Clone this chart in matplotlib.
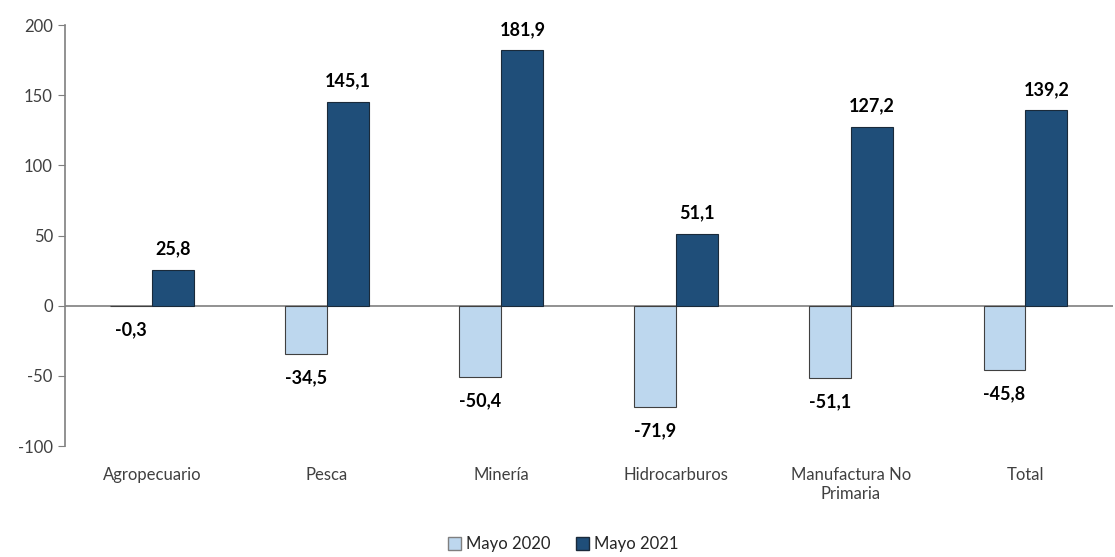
import numpy as np
import matplotlib.pyplot as plt
from matplotlib.patches import Patch

# Data
categories = ['Agropecuario', 'Pesca', 'Minería', 'Hidrocarburos',
              'Manufactura No\nPrimaria', 'Total']
mayo_2020 = [-0.3, -34.5, -50.4, -71.9, -51.1, -45.8]
mayo_2021 = [25.8, 145.1, 181.9, 51.1, 127.2, 139.2]
y_ticks = [-100, -50, 0, 50, 100, 150, 200]

LIGHT = '#bdd7ee'
DARK = '#1f4e79'
TEXT = '#404040'

plt.rcParams['font.family'] = ['Lato', 'DejaVu Sans']
plt.rcParams['axes.unicode_minus'] = False

fig = plt.figure(figsize=(11.15, 5.57), dpi=100)
ax = fig.add_axes([0.058, 0.199, 0.94, 0.756])

x = np.arange(len(categories))
w = 0.24
ax.bar(x - w / 2, mayo_2020, w, color=LIGHT, edgecolor='#404040', linewidth=0.8)
ax.bar(x + w / 2, mayo_2021, w, color=DARK, edgecolor='#1a2a3a', linewidth=0.8)

fmt = lambda v: f'{v:.1f}'.replace('.', ',')
for xi, v in zip(x, mayo_2020):
    ax.annotate(fmt(v), (xi - w / 2, v), xytext=(0, -11), textcoords='offset points',
                ha='center', va='top', fontsize=13, fontweight='bold', color='black')
for xi, v in zip(x, mayo_2021):
    ax.annotate(fmt(v), (xi + w / 2, v), xytext=(0, 9), textcoords='offset points',
                ha='center', va='bottom', fontsize=13, fontweight='bold', color='black')

ax.set_xlim(-0.5, 5.5)
ax.set_ylim(-100, 200)
ax.set_yticks(y_ticks)
ax.set_xticks(x)
ax.set_xticklabels(categories, fontsize=12, color=TEXT)
ax.tick_params(axis='y', labelsize=12, labelcolor=TEXT, color='#7f7f7f', length=5, direction='out')
ax.tick_params(axis='x', length=0, pad=15)

for s in ['top', 'right', 'bottom']:
    ax.spines[s].set_visible(False)
ax.spines['left'].set_color('#7f7f7f')
ax.spines['left'].set_linewidth(1.2)
ax.axhline(0, color='#7f7f7f', linewidth=1.2, zorder=0)

handles = [Patch(facecolor=LIGHT, edgecolor='#7f7f7f', label='Mayo 2020'),
           Patch(facecolor=DARK, edgecolor='#1a2a3a', label='Mayo 2021')]
fig.legend(handles=handles, loc='lower center', bbox_to_anchor=(0.505, -0.018), ncol=2,
           frameon=False, fontsize=12, handlelength=0.8, handleheight=0.8,
           handletextpad=0.3, columnspacing=1.5, labelcolor='#262626')

fig.savefig('out.png', dpi=100)
